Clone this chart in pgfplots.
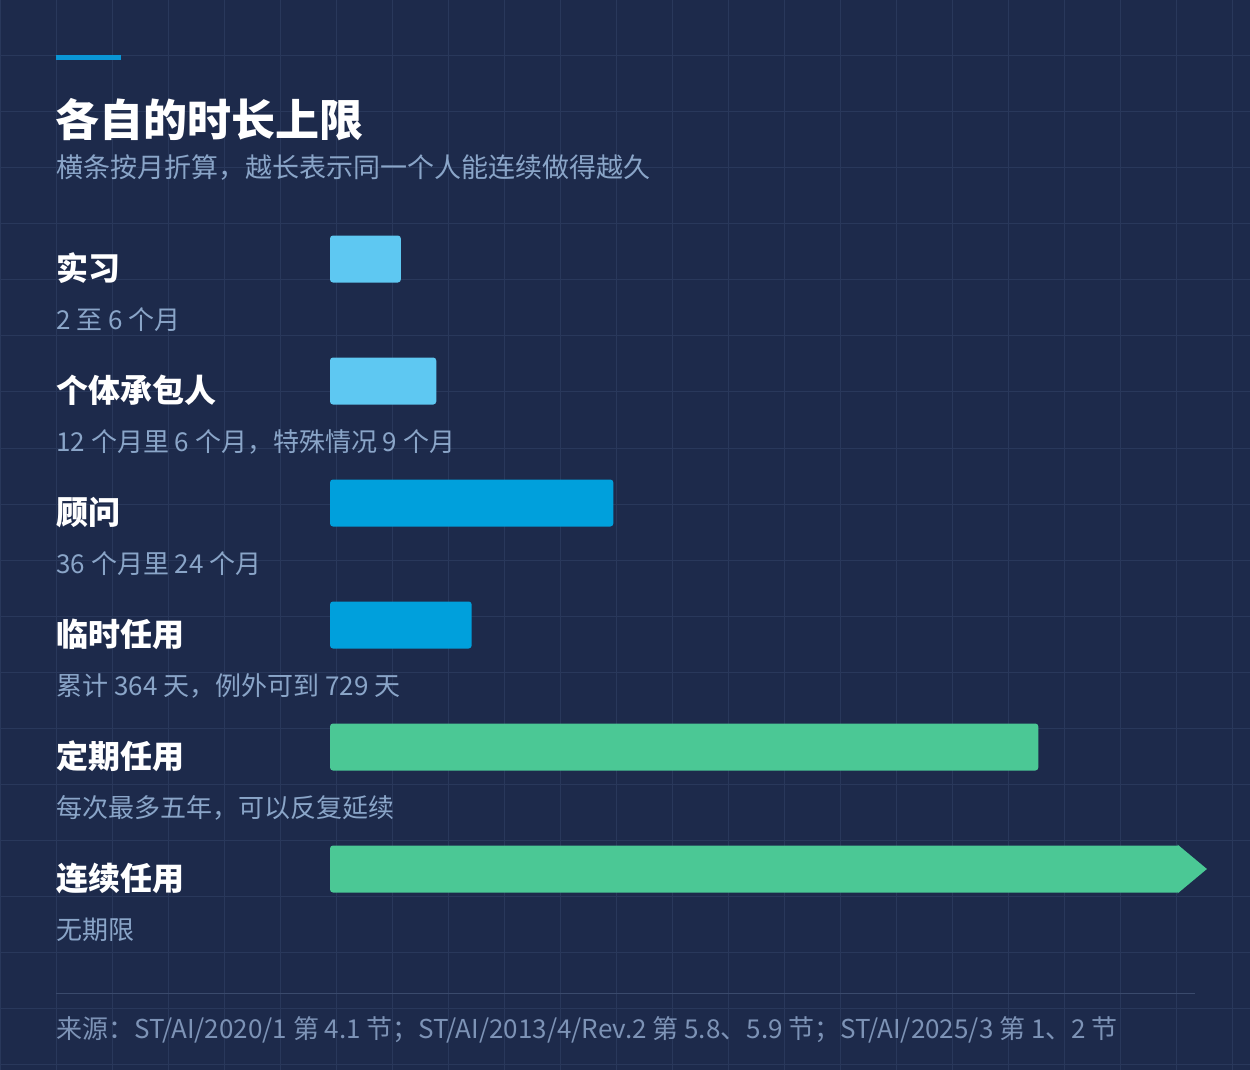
\documentclass[border=0pt]{standalone}
\usepackage{fontspec}
\setmainfont{Noto Sans CJK SC}
\usepackage{pgfplots}
\pgfplotsset{compat=1.18}
\definecolor{bg}{HTML}{1D2A4B}
\definecolor{gridc}{HTML}{29385B}
\definecolor{accent}{HTML}{0A96D6}
\definecolor{lblue}{HTML}{5EC8F2}
\definecolor{mblue}{HTML}{00A0DC}
\definecolor{green}{HTML}{4BC895}
\definecolor{subc}{HTML}{8AA5C8}
\definecolor{footc}{HTML}{7D93B6}
\definecolor{rulec}{HTML}{3A4A6C}
\begin{document}
\begin{tikzpicture}
\useasboundingbox (0,0) rectangle (625pt,-535pt);
\fill[bg] (0,0) rectangle (625pt,-535pt);
\begin{scope}[x=0.5pt,y=-0.5pt]
\foreach \i in {0,56,...,1250} \draw[gridc,line width=0.5pt] (\i,0) -- (\i,1070);
\foreach \j in {0,56,...,1070} \draw[gridc,line width=0.5pt] (0,\j) -- (1250,\j);
\fill[accent] (56,55) rectangle (121,60);
\node[anchor=west,inner sep=0,text=white,font=\fontsize{22pt}{26pt}\bfseries] at (55,120) {各自的时长上限};
\node[anchor=west,inner sep=0,text=subc,font=\fontsize{13.5pt}{16pt}\selectfont] at (56,168) {横条按月折算，越长表示同一个人能连续做得越久};
\foreach \y/\t/\s in {259.5/实习/2 至 6 个月, 381.5/个体承包人/{12 个月里 6 个月，特殊情况 9 个月}, 503.5/顾问/36 个月里 24 个月, 625.5/临时任用/{累计 364 天，例外可到 729 天}, 747.5/定期任用/{每次最多五年，可以反复延续}, 869.5/连续任用/无期限}{
  \node[anchor=west,inner sep=0,text=white,font=\fontsize{16pt}{19pt}\bfseries] at (56,\y+9) {\t};
  \node[anchor=west,inner sep=0,text=subc,font=\fontsize{13pt}{15pt}\selectfont] at (56,\y+60) {\s};
}
\draw[rulec,line width=0.5pt] (56,993.5) -- (1195,993.5);
\node[anchor=west,inner sep=0,text=footc,font=\fontsize{13pt}{15pt}\selectfont] at (56,1030) {来源：ST/AI/2020/1 第 4.1 节；ST/AI/2013/4/Rev.2 第 5.8、5.9 节；ST/AI/2025/3 第 1、2 节};
\end{scope}
\begin{axis}[at={(165pt,-465pt)}, anchor=south west, scale only axis,
  width=425pt, height=366pt, xmin=0, xmax=72, ymin=-0.5, ymax=5.5,
  axis lines=none, clip=false]
\addplot[xbar, bar width=23.5pt, fill=lblue, draw=none, rounded corners=1.5pt] coordinates {(6,5) (9,4)};
\addplot[xbar, bar width=23.5pt, fill=mblue, draw=none, rounded corners=1.5pt] coordinates {(24,3) (12,2)};
\addplot[xbar, bar width=23.5pt, fill=green, draw=none, rounded corners=1.5pt] coordinates {(60,1) (72,0)};
\addplot[fill=green, draw=none] coordinates {(71.8,0.2) (74.28,0) (71.8,-0.2)};
\end{axis}
\end{tikzpicture}
\end{document}
